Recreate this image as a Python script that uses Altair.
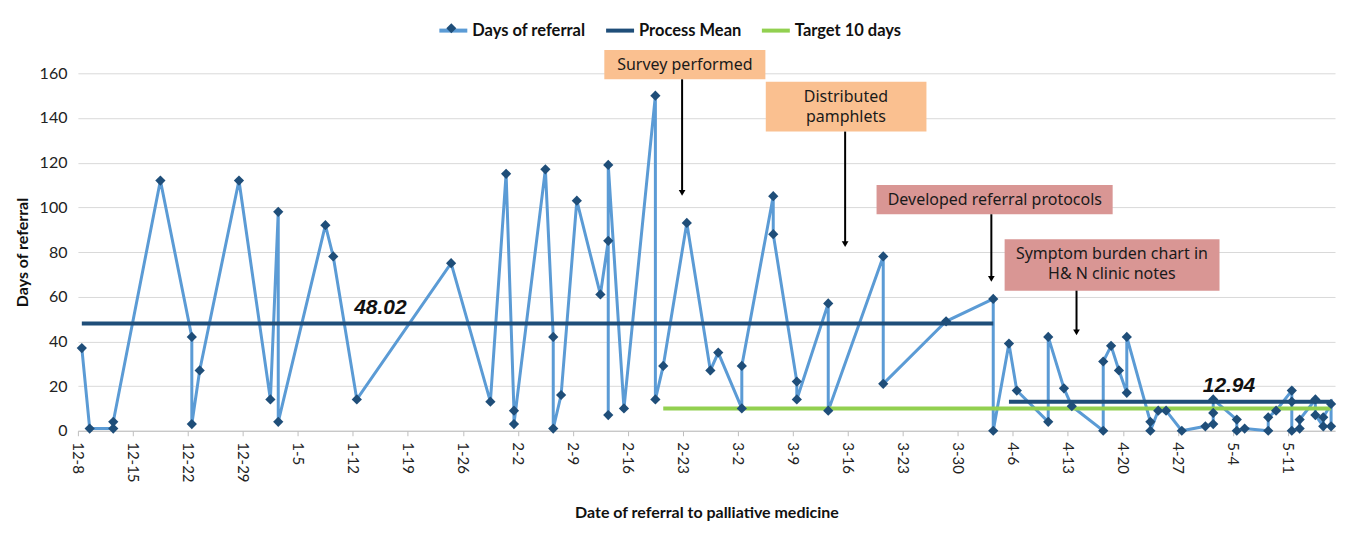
import altair as alt
import pandas as pd

# ---------------- data ----------------
ref_dates = [
    "2013-12-08", "2013-12-09", "2013-12-12", "2013-12-12", "2013-12-18",
    "2013-12-22", "2013-12-22", "2013-12-23", "2013-12-28", "2014-01-01",
    "2014-01-02", "2014-01-02", "2014-01-08", "2014-01-09", "2014-01-12",
    "2014-01-24", "2014-01-29", "2014-01-31", "2014-02-01", "2014-02-01",
    "2014-02-05", "2014-02-06", "2014-02-06", "2014-02-07", "2014-02-09",
    "2014-02-12", "2014-02-13", "2014-02-13", "2014-02-13", "2014-02-15",
    "2014-02-19", "2014-02-19", "2014-02-20", "2014-02-23", "2014-02-26",
    "2014-02-27", "2014-03-02", "2014-03-02", "2014-03-06", "2014-03-06",
    "2014-03-09", "2014-03-09", "2014-03-13", "2014-03-13", "2014-03-20",
    "2014-03-20", "2014-03-28", "2014-04-03", "2014-04-03", "2014-04-05",
    "2014-04-06", "2014-04-10", "2014-04-10", "2014-04-12", "2014-04-13",
    "2014-04-17", "2014-04-17", "2014-04-18", "2014-04-19", "2014-04-20",
    "2014-04-20", "2014-04-23", "2014-04-23", "2014-04-24", "2014-04-25",
    "2014-04-27", "2014-04-30", "2014-05-01", "2014-05-01", "2014-05-01",
    "2014-05-04", "2014-05-04", "2014-05-05", "2014-05-08", "2014-05-08",
    "2014-05-09", "2014-05-11", "2014-05-11", "2014-05-11", "2014-05-12",
    "2014-05-12", "2014-05-14", "2014-05-14", "2014-05-15", "2014-05-15",
    "2014-05-16", "2014-05-16",
]
ref_days = [
    37, 1, 1, 4, 112,
    42, 3, 27, 112, 14,
    98, 4, 92, 78, 14,
    75, 13, 115, 9, 3,
    117, 42, 1, 16, 103,
    61, 85, 7, 119, 10,
    150, 14, 29, 93, 27,
    35, 10, 29, 105, 88,
    22, 14, 57, 9, 78,
    21, 49, 59, 0, 39,
    18, 4, 42, 19, 11,
    0, 31, 38, 27, 17,
    42, 4, 0, 9, 9,
    0, 2, 3, 8, 14,
    5, 0, 1, 0, 6,
    9, 18, 13, 0, 1,
    5, 14, 7, 2, 6,
    12, 2,
]

series_names = ["Days of referral", "Process Mean", "Target 10 days"]
series_colors = ["#5B9BD5", "#1F4E79", "#92D050"]

mean_starts = ["2013-12-08", "2014-04-05"]
mean_ends = ["2014-04-03", "2014-05-16"]
mean_values = [48.02, 12.94]
mean_label_dates = ["2014-01-15", "2014-05-03"]
mean_label_levels = [55, 20]

target_start = ["2014-02-20"]
target_end = ["2014-05-16"]
target_value = [10]

tick_dates = [
    "2013-12-08", "2013-12-15", "2013-12-22", "2013-12-29", "2014-01-05",
    "2014-01-12", "2014-01-19", "2014-01-26", "2014-02-02", "2014-02-09",
    "2014-02-16", "2014-02-23", "2014-03-02", "2014-03-09", "2014-03-16",
    "2014-03-23", "2014-03-30", "2014-04-06", "2014-04-13", "2014-04-20",
    "2014-04-27", "2014-05-04", "2014-05-11",
]
y_ticks = [0, 20, 40, 60, 80, 100, 120, 140, 160]

# annotations (day offsets from 12-8, value levels)
ann_texts = ["Survey performed", "Distributed\npamphlets",
             "Developed referral protocols", "Symptom burden chart in\nH& N clinic notes"]
ann_fill = ["#FAC090", "#FAC090", "#D99694", "#D99694"]
ann_x0 = [67.0, 87.55, 101.65, 117.95]
ann_x1 = [87.5, 108.0, 131.7, 145.3]
ann_y0 = [157.3, 133.9, 96.9, 62.7]
ann_y1 = [170.4, 156.2, 110.0, 85.7]
ann_tx = [77.25, 97.75, 116.7, 131.6]
ann_ty = [163.8, 149.3, 103.4, 78.9]
arrow_x = [76.9, 97.65, 116.26, 127.1]
arrow_y0 = [157.3, 133.9, 96.9, 62.7]
arrow_y1 = [106.5, 83.5, 68.0, 44.0]

# ---------------- helpers ----------------
DAY = 86400000
START = "2013-12-08"


def ms(d, off=0.0):
    return int(pd.Timestamp(d).value // 10**6 + off * DAY)


def ms_off(days):
    return int(ms(START) + days * DAY)


pts = pd.DataFrame({
    "t": [ms(d, 0.5) for d in ref_dates],
    "v": ref_days,
    "idx": list(range(len(ref_days))),
    "series": series_names[0],
    "marker": series_names[0],
})
means = pd.DataFrame({
    "t": [ms(d, 0.5) for d in mean_starts],
    "t2": [ms(d, 0.5) for d in mean_ends],
    "v": mean_values,
    "series": series_names[1],
})
target = pd.DataFrame({
    "t": [ms(d, 0.5) for d in target_start],
    "t2": [ms(d, 0.5) for d in target_end],
    "v": target_value,
    "series": series_names[2],
})
mean_labels = pd.DataFrame({
    "t": [ms(d, 0.5) for d in mean_label_dates],
    "v": mean_label_levels,
    "label": [f"{m:.2f}" for m in mean_values],
})
ann = pd.DataFrame({
    "x0": [ms_off(d) for d in ann_x0],
    "x1": [ms_off(d) for d in ann_x1],
    "y0": ann_y0, "y1": ann_y1,
    "tx": [ms_off(d) for d in ann_tx],
    "ty": ann_ty,
    "text": ann_texts,
    "fill": ann_fill,
    "ax": [ms_off(d) for d in arrow_x],
    "ay0": arrow_y0, "ay1": arrow_y1,
})

x_scale = alt.Scale(type="utc", domain=[ms("2013-12-08"), ms("2014-05-17")])
y_scale = alt.Scale(domain=[0, 160], nice=False, zero=True)
color_scale = alt.Scale(domain=series_names, range=series_colors)

x_axis = alt.Axis(
    values=[ms(d) for d in tick_dates], format="%-m-%-d", labelAngle=90,
    labelAlign="left", labelBaseline="middle", labelFont="Lato",
    labelFontSize=15, labelColor="#222222", tickSize=5, tickColor="#BFBFBF",
    domainColor="#BFBFBF", grid=False, labelPadding=6, labelOverlap=False,
    labelFlush=False, title="Date of referral to palliative medicine",
    titleFont="Lato", titleFontSize=16, titleFontWeight="bold",
    titleColor="#111111", titleY=82, titleBaseline="middle",
)
y_axis = alt.Axis(
    values=y_ticks, labelFont="Lato", labelFontSize=16, labelColor="#222222",
    tickSize=0, domain=False, grid=True, gridColor="#D9D9D9", labelPadding=11,
    title="Days of referral", titleFont="Lato", titleFontSize=16,
    titleFontWeight="bold", titleColor="#111111", titleX=-47, titleY=179,
    titleAngle=270, titleAlign="center", titleBaseline="bottom",
)


def X(field):
    return alt.X(field, type="temporal", scale=x_scale, axis=x_axis)


def Y(field):
    return alt.Y(field, type="quantitative", scale=y_scale, axis=y_axis)


legend_a = alt.Legend(
    title=None, orient="none", legendX=360, legendY=-59, direction="horizontal",
    symbolType="stroke", symbolSize=784, symbolStrokeWidth=4,
    labelFont="Lato", labelFontSize=16.5, labelFontWeight="bold",
    labelColor="#111111", labelOffset=3, columnPadding=12,
)
legend_b = alt.Legend(
    title=None, orient="none", legendX=369, legendY=-50,
    symbolSize=100, symbolStrokeWidth=0, labelExpr="''",
)

line = alt.Chart(pts).mark_line(strokeWidth=3).encode(
    x=X("t"), y=Y("v"), order="idx:Q",
    color=alt.Color("series:N", scale=color_scale, legend=legend_a),
)
points = alt.Chart(pts).mark_point(filled=True, color="#1F4E79", size=105, opacity=1).encode(
    x=X("t"), y=Y("v"),
    shape=alt.Shape("marker:N", scale=alt.Scale(domain=[series_names[0]], range=["diamond"]),
                    legend=legend_b),
)
mean_rules = alt.Chart(means).mark_rule(strokeWidth=4).encode(
    x=X("t"), x2="t2", y=Y("v"),
    color=alt.Color("series:N", scale=color_scale, legend=legend_a),
)
target_rule = alt.Chart(target).mark_rule(strokeWidth=4).encode(
    x=X("t"), x2="t2", y=Y("v"),
    color=alt.Color("series:N", scale=color_scale, legend=legend_a),
)
mean_text = alt.Chart(mean_labels).mark_text(
    font="Liberation Sans", fontSize=21, fontWeight="bold", fontStyle="italic",
    color="#111111", baseline="middle", align="center",
).encode(x=X("t"), y=Y("v"), text="label:N")

boxes = alt.Chart(ann).mark_rect().encode(
    x=X("x0"), x2="x1", y=Y("y0"), y2="y1",
    fill=alt.Fill("fill:N", scale=None),
)
box_text = alt.Chart(ann).mark_text(
    font="Noto Sans", fontSize=16, color="#1A1A1A", lineBreak="\n",
    lineHeight=20, align="center", baseline="middle",
).encode(x=X("tx"), y=Y("ty"), text="text:N")
arrows = alt.Chart(ann).mark_rule(strokeWidth=2, color="#000000").encode(
    x=X("ax"), y=Y("ay0"), y2="ay1",
)
heads = alt.Chart(ann).mark_point(
    shape="triangle-down", filled=True, color="#000000", size=45, opacity=1,
).encode(x=X("ax"), y=Y("ay1"))

chart = alt.layer(
    line, target_rule, mean_rules, points, mean_text, boxes, box_text, arrows, heads
).properties(
    width=1259, height=358,
    autosize=alt.AutoSizeParams(type="none"),
    padding={"left": 70, "top": 65, "right": 8, "bottom": 94},
).configure_view(stroke=None)

chart.save("out.html", embed_options={"renderer": "svg", "actions": False})
